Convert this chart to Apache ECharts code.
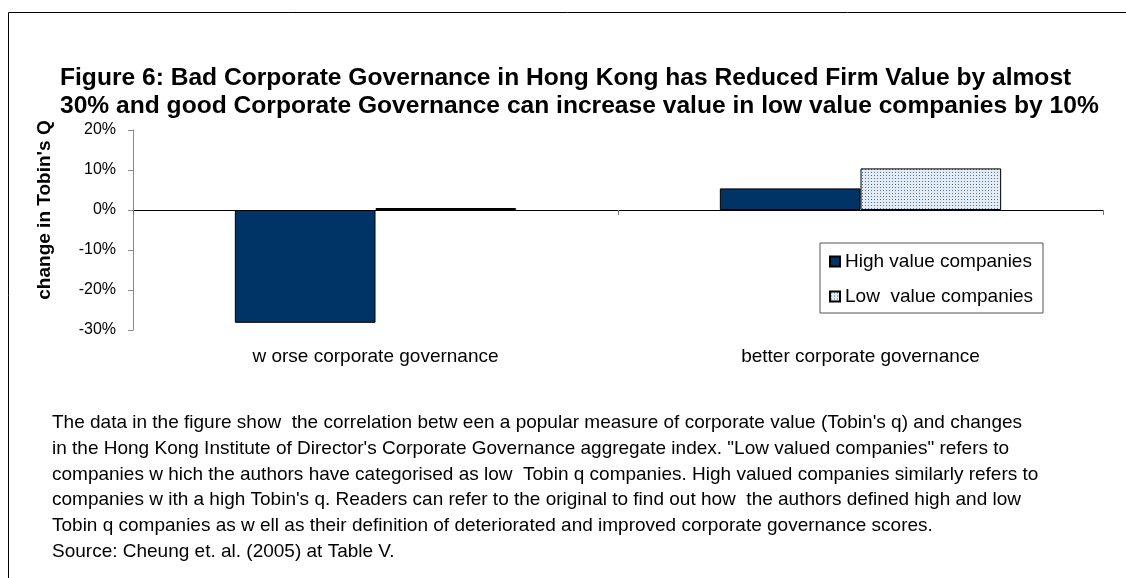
<!DOCTYPE html>
<html><head><meta charset="utf-8">
<script src="https://cdn.jsdelivr.net/npm/echarts@6/dist/echarts.min.js"></script>
<style>html,body{margin:0;padding:0;background:#fff}#c{width:1126px;height:578px}</style>
</head><body><div id="c"></div>
<script>
const titleLines = ["Figure 6: Bad Corporate Governance in Hong Kong has Reduced Firm Value by almost",
  "30% and good Corporate Governance can increase value in low value companies by 10%"];
const categories = ["w orse corporate governance", "better corporate governance"];
const seriesNames = ["High value companies", "Low  value companies"];
const highValues = [-28.2, 5.4];
const lowValues = [0.5, 10.4];
const yAxisName = "change in Tobin's Q";
const noteLines = [
  "The data in the figure show  the correlation betw een a popular measure of corporate value (Tobin's q) and changes",
  "in the Hong Kong Institute of Director's Corporate Governance aggregate index. \"Low valued companies\" refers to",
  "companies w hich the authors have categorised as low  Tobin q companies. High valued companies similarly refers to",
  "companies w ith a high Tobin's q. Readers can refer to the original to find out how  the authors defined high and low",
  "Tobin q companies as w ell as their definition of deteriorated and improved corporate governance scores.",
  "Source: Cheung et. al. (2005) at Table V."
];

const pc = document.createElement('canvas');
pc.width = 3; pc.height = 3;
const px = pc.getContext('2d');
px.fillStyle = '#e4ebf3'; px.fillRect(0,0,3,3);
px.fillStyle = '#4f73a0'; px.fillRect(1,1,1,1);
const pattern = {image: pc, repeat: 'repeat'};

const FONT = "'Liberation Sans', Arial, sans-serif";
const chart = echarts.init(document.getElementById('c'), null, {renderer:'canvas'});
const graphics = [
  {type:'rect', shape:{x:8.5, y:12.5, width:1200, height:700}, style:{fill:'none', stroke:'#000', lineWidth:1}, silent:true, z:-1},
  {type:'text', x:45, y:210, rotation:Math.PI/2,
    style:{text:yAxisName, font:"bold 19px " + FONT, fill:'#000', align:'center', verticalAlign:'middle'}}
];
noteLines.forEach((t,i)=>{
  graphics.push({type:'text', x:52, y:423 + i*25.7,
    style:{text:t, font:"19px " + FONT, fill:'#000', verticalAlign:'middle'}});
});
chart.setOption({
  animation:false,
  textStyle:{fontFamily:FONT},
  title:{text: titleLines.join('\n'), left:60, top:64, padding:0,
    textStyle:{fontSize:24.6, fontWeight:'bold', color:'#000', lineHeight:28, fontFamily:FONT}},
  grid:{left:133, right:23, top:130, bottom:248, containLabel:false},
  legend:{orient:'vertical', left:820, top:243, icon:'rect', itemWidth:10, itemHeight:10, itemGap:16,
    padding:[9,10,7,9], borderColor:'#555', borderWidth:1, backgroundColor:'#fff',
    textStyle:{fontSize:19, color:'#000', fontFamily:FONT}, data:seriesNames},
  xAxis:{type:'category', data:categories,
    axisLine:{onZero:true, lineStyle:{color:'#000', width:1}},
    axisTick:{show:true, alignWithLabel:false, length:5, lineStyle:{color:'#777'}},
    axisLabel:{fontSize:19, color:'#000', margin:17, fontFamily:FONT}},
  yAxis:{type:'value', min:-30, max:20, interval:10,
    axisLine:{show:true, lineStyle:{color:'#888'}},
    axisTick:{show:true, length:5, lineStyle:{color:'#888'}},
    splitLine:{show:false},
    axisLabel:{fontSize:16, color:'#000', margin:17, formatter:v=>v+'%', fontFamily:FONT}},
  series:[
    {name:seriesNames[0], type:'bar', data:highValues, barGap:'0%', barCategoryGap:'42%',
      itemStyle:{color:'#003366', borderColor:'#000', borderWidth:1}},
    {name:seriesNames[1], type:'bar', data:lowValues,
      itemStyle:{color:pattern, borderColor:'#000', borderWidth:1}}
  ],
  graphic:graphics
});
</script>
</body></html>
